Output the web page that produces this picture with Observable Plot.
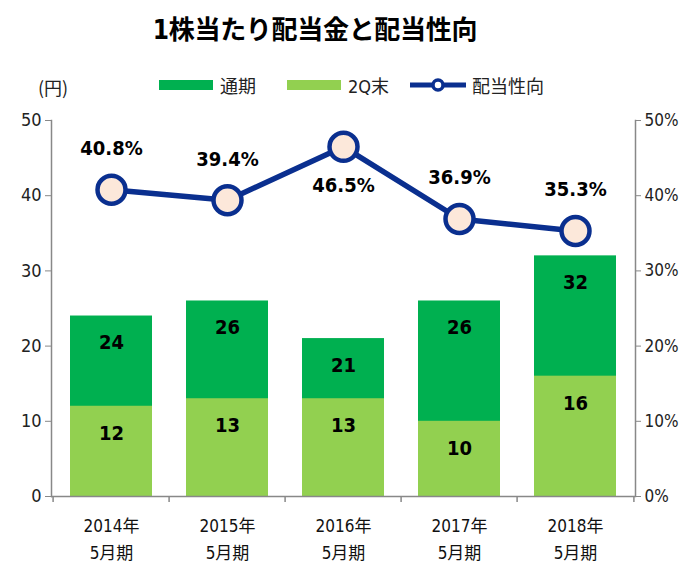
<!DOCTYPE html>
<html><head><meta charset="utf-8">
<script src="https://cdn.jsdelivr.net/npm/d3@7"></script>
<script src="https://cdn.jsdelivr.net/npm/@observablehq/plot@0.6"></script>
<style>
body{margin:0;background:#fff;font-family:"DejaVu Sans Condensed","Noto Sans CJK JP",sans-serif;}
#wrap{position:relative;width:679px;height:563px;}
#title{position:absolute;left:0;top:9px;width:630px;text-align:center;font-size:26px;font-weight:bold;color:#000;font-family:"DejaVu Sans Condensed","Noto Sans CJK JP",sans-serif;letter-spacing:-0.3px;}
#unit{position:absolute;left:38px;top:74px;font-size:18px;color:#222;font-family:"Noto Sans CJK JP",sans-serif;}
#legend{position:absolute;left:0;top:72px;width:679px;height:26px;font-size:18px;color:#222;font-family:"DejaVu Sans Condensed","Noto Sans CJK JP",sans-serif;}
.item{position:absolute;top:0;height:26px;display:flex;align-items:center;}
.sw{display:inline-block;width:54px;height:10px;margin-right:7px;}
#chart{position:absolute;left:0;top:100px;}
</style></head>
<body><div id="wrap">
<div id="title">1株当たり配当金と配当性向</div>
<div id="unit">(円)</div>
<div id="legend"></div>
<div id="chart"></div>
</div>
<script>
const categories = ["2014年\n5月期","2015年\n5月期","2016年\n5月期","2017年\n5月期","2018年\n5月期"];
const annual = [24, 26, 21, 26, 32];
const interim = [12, 13, 13, 10, 16];
const payout = [40.8, 39.4, 46.5, 36.9, 35.3];
const payoutLabels = ["40.8%","39.4%","46.5%","36.9%","35.3%"];
const payoutLabelPos = ["above","above","below","above","above"];
const yTicks = [0,10,20,30,40,50];
const seriesNames = ["通期","2Q末","配当性向"];
const colors = {annual:"#00B050", interim:"#92D050", line:"#0A2F8F", marker:"#FCE8DA"};

const rows = categories.map((c,i)=>({c, annual:annual[i], interim:interim[i], payout:payout[i], label:payoutLabels[i], pos:payoutLabelPos[i]}));

const lg = document.getElementById("legend");
lg.innerHTML = `
<span class="item" style="left:159px"><span class="sw" style="background:${colors.annual}"></span>${seriesNames[0]}</span>
<span class="item" style="left:287px"><span class="sw" style="background:${colors.interim}"></span>${seriesNames[1]}</span>
<span class="item" style="left:408px"><svg width="60" height="16" style="margin-right:4px"><line x1="2" x2="58" y1="8" y2="8" stroke="${colors.line}" stroke-width="5"/><circle cx="30" cy="8" r="5" fill="#fff" stroke="${colors.line}" stroke-width="3.5"/></svg>${seriesNames[2]}</span>`;

const W = 679, H = 463;
const mL = 51, mR = 44;
const band = (W - mL - mR) / categories.length;
const font = "'DejaVu Sans Condensed','Noto Sans CJK JP',sans-serif";

const plot = Plot.plot({
  width: W, height: H,
  marginTop: 20, marginBottom: 67, marginLeft: mL, marginRight: mR,
  style: {fontFamily: font, fontSize: "17px", color:"#222", background:"#fff"},
  x: {domain: categories, padding: 0},
  y: {domain: [0, 50]},
  marks: [
    Plot.barY(rows, {x:"c", y:"annual", fill: colors.annual, insetLeft: 17, insetRight: 17}),
    Plot.barY(rows, {x:"c", y:"interim", fill: colors.interim, insetLeft: 17, insetRight: 17}),
    Plot.text(rows, {x:"c", y:"annual", text: d=>String(d.annual), dy: 27, fontSize: 20, fontWeight:"bold", fill:"#000"}),
    Plot.text(rows, {x:"c", y:"interim", text: d=>String(d.interim), dy: 27, fontSize: 20, fontWeight:"bold", fill:"#000"}),
    Plot.ruleY([0], {stroke:"#888", strokeWidth:1.5}),
    Plot.frame({anchor:"left", stroke:"#888", strokeWidth:1.5}),
    Plot.frame({anchor:"right", stroke:"#888", strokeWidth:1.5}),
    Plot.ruleX(categories, {x: d=>d, dx: -band/2, y1: 0, y2: -0.8, stroke:"#888", strokeWidth:1.5}),
    Plot.ruleX(categories.slice(-1), {x: d=>d, dx: band/2, y1: 0, y2: -0.8, stroke:"#888", strokeWidth:1.5}),
    Plot.axisY({anchor:"left", ticks: yTicks, tickSize: 6, tickPadding: 4, stroke:"#888", label:null, fontSize: 18, fill:"#222"}),
    Plot.axisY({anchor:"right", ticks: yTicks, tickSize: 5, tickPadding: 4, tickFormat: d=>d+"%", stroke:"#888", label:null, fontSize: 17, fill:"#222"}),
    Plot.axisX({anchor:"bottom", tickSize: 0, tickPadding: 16, label:null, fontSize: 17, lineHeight: 1.6, fill:"#111"}),
    Plot.line(rows, {x:"c", y:"payout", stroke: colors.line, strokeWidth: 5.5}),
    Plot.dot(rows, {x:"c", y:"payout", r: 14, fill: colors.marker, stroke: colors.line, strokeWidth: 4.5}),
    Plot.text(rows.filter(d=>d.pos==="above"), {x:"c", y:"payout", text:"label", dy:-41, fontSize: 20, fontWeight:"bold", fill:"#000"}),
    Plot.text(rows.filter(d=>d.pos==="below"), {x:"c", y:"payout", text:"label", dy:39, fontSize: 20, fontWeight:"bold", fill:"#000"})
  ]
});
document.getElementById("chart").appendChild(plot);
</script>
</body></html>
